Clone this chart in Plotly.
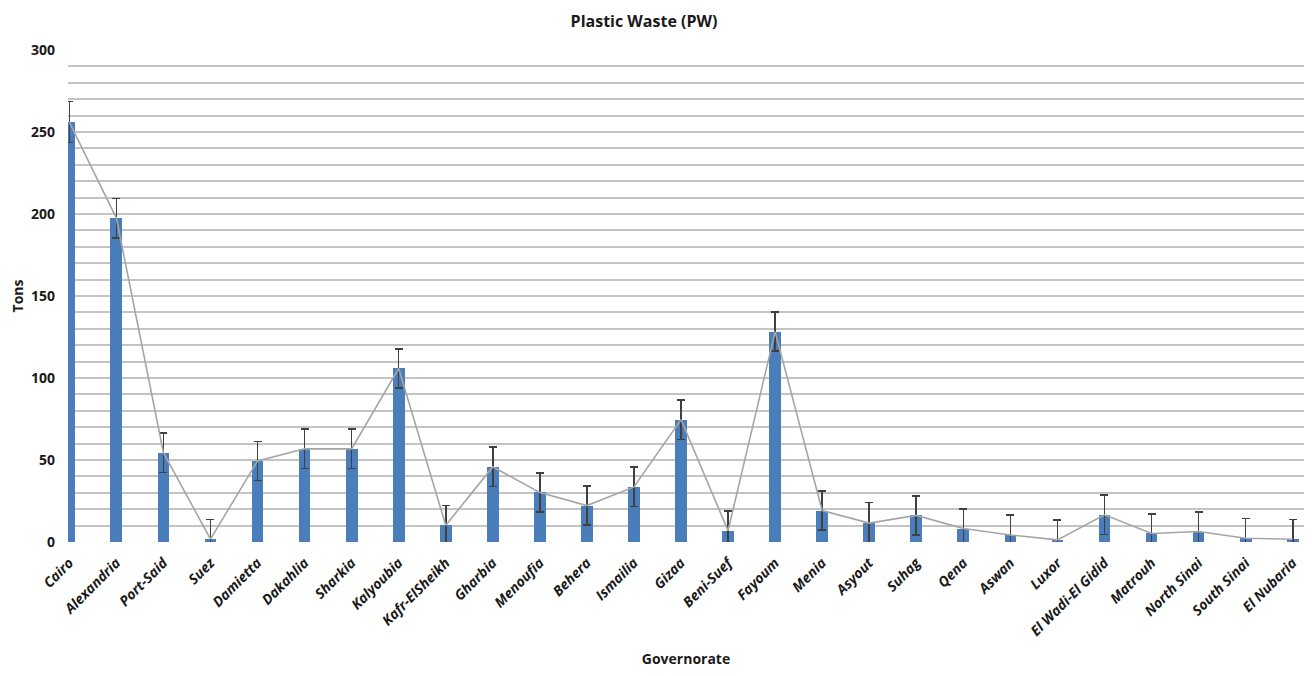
import plotly.graph_objects as go

governorates = ["Cairo", "Alexandria", "Port-Said", "Suez", "Damietta", "Dakahlia", "Sharkia",
                "Kalyoubia", "Kafr-ElSheikh", "Gharbia", "Menoufia", "Behera", "Ismailia", "Gizaa",
                "Beni-Suef", "Fayoum", "Menia", "Asyout", "Suhag", "Qena", "Aswan", "Luxor",
                "El Wadi-El Gidid", "Matrouh", "North Sinai", "South Sinai", "El Nubaria"]
tons = [256, 197.5, 54.5, 1.8, 49.4, 56.8, 56.8, 105.8, 10.2, 45.8, 30.2, 22.2, 33.6, 74.6,
        6.9, 128.3, 19.2, 11.5, 16.2, 8.2, 4.3, 1.3, 16.6, 5.2, 6.4, 2.3, 1.7]
errors = [12.5, 12, 12, 12, 12, 12, 12, 12, 12, 12, 12, 12, 12, 12,
          12, 12, 12, 12.5, 12, 12, 12, 12, 12, 12, 12, 12, 12]
y_ticks = [0, 50, 100, 150, 200, 250, 300]

x_idx = list(range(len(governorates)))
font_family = "Open Sans, Lato, sans-serif"

# page body has an 8px default margin; size the figure to fit the window without scrolling
W, H = 1296, 660

fig = go.Figure()
fig.add_trace(go.Bar(
    x=x_idx, y=tons, width=0.25,
    marker=dict(color="#4A7EBB", line=dict(width=0)),
    error_y=dict(type="data", array=errors, visible=True, color="#404040",
                 thickness=1.6, width=4),
    showlegend=False, hoverinfo="y",
))
fig.add_trace(go.Scatter(
    x=x_idx, y=tons, mode="lines",
    line=dict(color="#A5A5A5", width=1.6),
    showlegend=False, hoverinfo="skip",
))

fig.update_layout(
    width=W, height=H,
    margin=dict(l=60, r=0, t=42, b=126),
    paper_bgcolor="white", plot_bgcolor="white",
    title=dict(text="Plastic Waste (PW)", x=636 / W, xanchor="center", y=1 - 13 / H, yanchor="middle",
               font=dict(family=font_family, size=16, color="#1a1a1a", weight="bold")),
    bargap=0,
)
fig.update_xaxes(
    range=[-0.028, 26.24], automargin=False,
    tickmode="array", tickvals=x_idx, ticktext=governorates,
    tickangle=-45, ticklabelstandoff=9, ticklabeloverflow="allow",
    tickfont=dict(family=font_family, size=14, color="#1a1a1a", weight="bold", style="italic"),
    showgrid=False, zeroline=False, showline=False, ticks="",
    title=dict(text="Governorate", standoff=20,
               font=dict(family=font_family, size=14, color="#1a1a1a", weight="bold")),
)
fig.update_yaxes(
    range=[0, 300], automargin=False,
    tickmode="array", tickvals=y_ticks,
    tickfont=dict(family=font_family, size=14, color="#1a1a1a", weight="bold"),
    showgrid=True, gridcolor="#C4C4C4", gridwidth=1.6,
    minor=dict(dtick=10, showgrid=True, gridcolor="#C4C4C4", gridwidth=1.6),
    zeroline=False, showline=False, ticks="", ticklabelstandoff=12,
    title=dict(text="Tons", standoff=8,
               font=dict(family=font_family, size=14, color="#1a1a1a", weight="bold")),
)

fig.write_html("out.html")
